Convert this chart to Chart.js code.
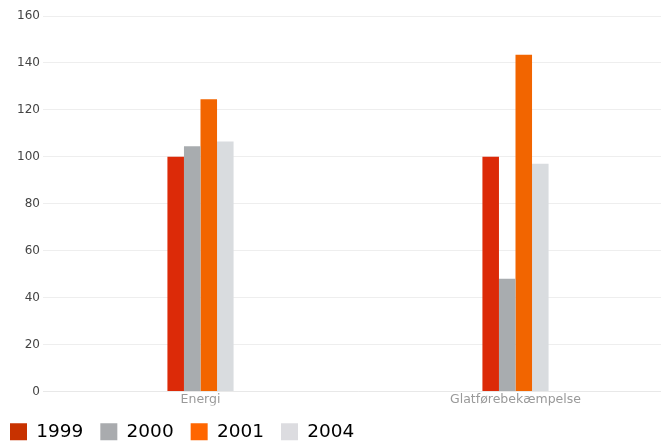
<!DOCTYPE html>
<html>
<head>
<meta charset="utf-8">
<script src="https://cdn.jsdelivr.net/npm/chart.js@4"></script>
<style>
  html, body { margin: 0; padding: 0; background: #fff; overflow: hidden; }
  #wrap { width: 673px; height: 441px; }
</style>
</head>
<body>
<div id="wrap"><canvas id="chart"></canvas></div>
<script>
'use strict';

const categories = ['Energi', 'Glatførebekæmpelse'];
const years = ['1999', '2000', '2001', '2004'];
const values1999 = [100, 100];
const values2000 = [104.5, 48];
const values2001 = [124.5, 143.5];
const values2004 = [106.5, 97];
const yTicks = [0, 20, 40, 60, 80, 100, 120, 140, 160];

const barColors = ['#dc2a08', '#a8acaf', '#f26500', '#d9dcdf'];
const legendColors = ['#c83200', '#a9abae', '#ff6600', '#dcdce0'];
const series = [values1999, values2000, values2001, values2004];

const datasets = years.map((y, i) => ({
  label: y,
  data: series[i],
  backgroundColor: barColors[i],
  borderWidth: 0,
  categoryPercentage: 0.21,
  barPercentage: 1,
}));

// nudge the legend so it starts near the left edge like the original
const legendShift = {
  id: 'legendShift',
  afterLayout(chart) {
    if (chart.legend) chart.legend.left -= 7;
  },
};

new Chart(document.getElementById('chart').getContext('2d'), {
  type: 'bar',
  data: { labels: categories, datasets },
  plugins: [legendShift],
  options: {
    responsive: true,
    maintainAspectRatio: false,
    animation: false,
    layout: { padding: { left: 0, top: 16, right: 0, bottom: -10 } },
    plugins: {
      tooltip: { enabled: false },
      legend: {
        position: 'bottom',
        align: 'start',
        labels: {
          boxWidth: 17,
          boxHeight: 17,
          padding: 17,
          color: '#111',
          font: { family: 'DejaVu Sans', size: 18.5 },
          generateLabels: () => years.map((y, i) => ({
            text: y,
            fillStyle: legendColors[i],
            strokeStyle: legendColors[i],
            lineWidth: 0,
            datasetIndex: i,
          })),
        },
      },
    },
    scales: {
      x: {
        grid: { display: false, drawTicks: false },
        border: { color: '#e8e8e8' },
        ticks: { color: '#999', font: { family: 'DejaVu Sans', size: 12.5 }, padding: 1 },
        afterFit: axis => { axis.height = 14; },
      },
      y: {
        min: 0,
        max: 160,
        afterBuildTicks: axis => { axis.ticks = yTicks.map(v => ({ value: v })); },
        afterFit: axis => { axis.width = 43; },
        grid: { color: '#eeeeee', drawTicks: false },
        border: { display: false },
        ticks: { color: '#444', font: { family: 'DejaVu Sans', size: 12 }, padding: 3 },
      },
    },
  },
});
</script>
</body>
</html>
